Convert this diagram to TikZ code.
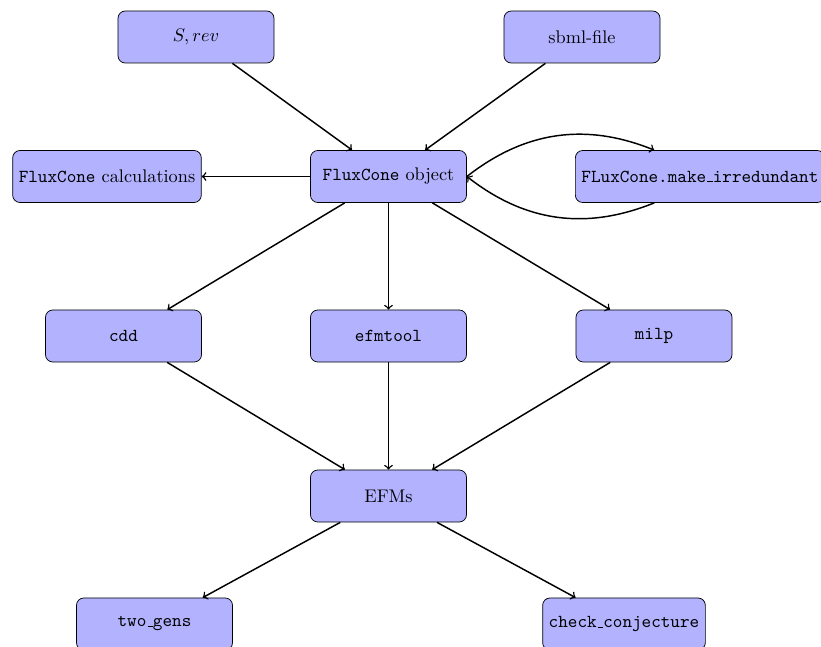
\documentclass[tikz,border=0pt]{standalone}
\newcommand\myus{\kern.06em\vbox{\hrule width.3em}}
\begin{document}
\begin{tikzpicture}[x=0.019231cm,y=-0.019231cm,
  box/.style={draw,rounded corners,fill=blue!30,minimum width=3cm,minimum height=1cm,inner sep=0.3333em},
  arr/.style={->,thick},
  >=to]
\clip (0,0) rectangle (821,647);
\node[box] (srev) at (196,37) {$S, rev$};
\node[box] (sbml) at (582,37) {sbml-file};
\node[box] (obj) at (388.5,176.5) {\texttt{FluxCone} object};
\node[box] (calc) at (107,176.5) {\texttt{FluxCone} calculations};
\node[box,anchor=west] (irr) at (575,176.5) {\texttt{FLuxCone.make\myus irredundant}};
\node[box] (cdd) at (123.5,336) {\texttt{cdd}};
\node[box] (efm) at (388.5,336) {\texttt{efmtool}};
\node[box] (milp) at (654,336) {\texttt{milp}};
\node[box] (efms) at (388.5,496) {EFMs};
\node[box] (two) at (154.5,624) {\texttt{two\myus gens}};
\node[box] (chk) at (624,624) {\texttt{check\myus conjecture}};
\draw[arr] (srev) -- (obj);
\draw[arr] (sbml) -- (obj);
\draw[arr] (obj) -- (calc);
\draw[arr] (obj.east) to[bend left] (irr);
\draw[arr] (irr) to[bend left] (obj.east);
\draw[arr] (obj) -- (cdd);
\draw[arr] (obj) -- (efm);
\draw[arr] (obj) -- (milp);
\draw[arr] (cdd) -- (efms);
\draw[arr] (efm) -- (efms);
\draw[arr] (milp) -- (efms);
\draw[arr] (efms) -- (two);
\draw[arr] (efms) -- (chk);
\end{tikzpicture}
\end{document}
